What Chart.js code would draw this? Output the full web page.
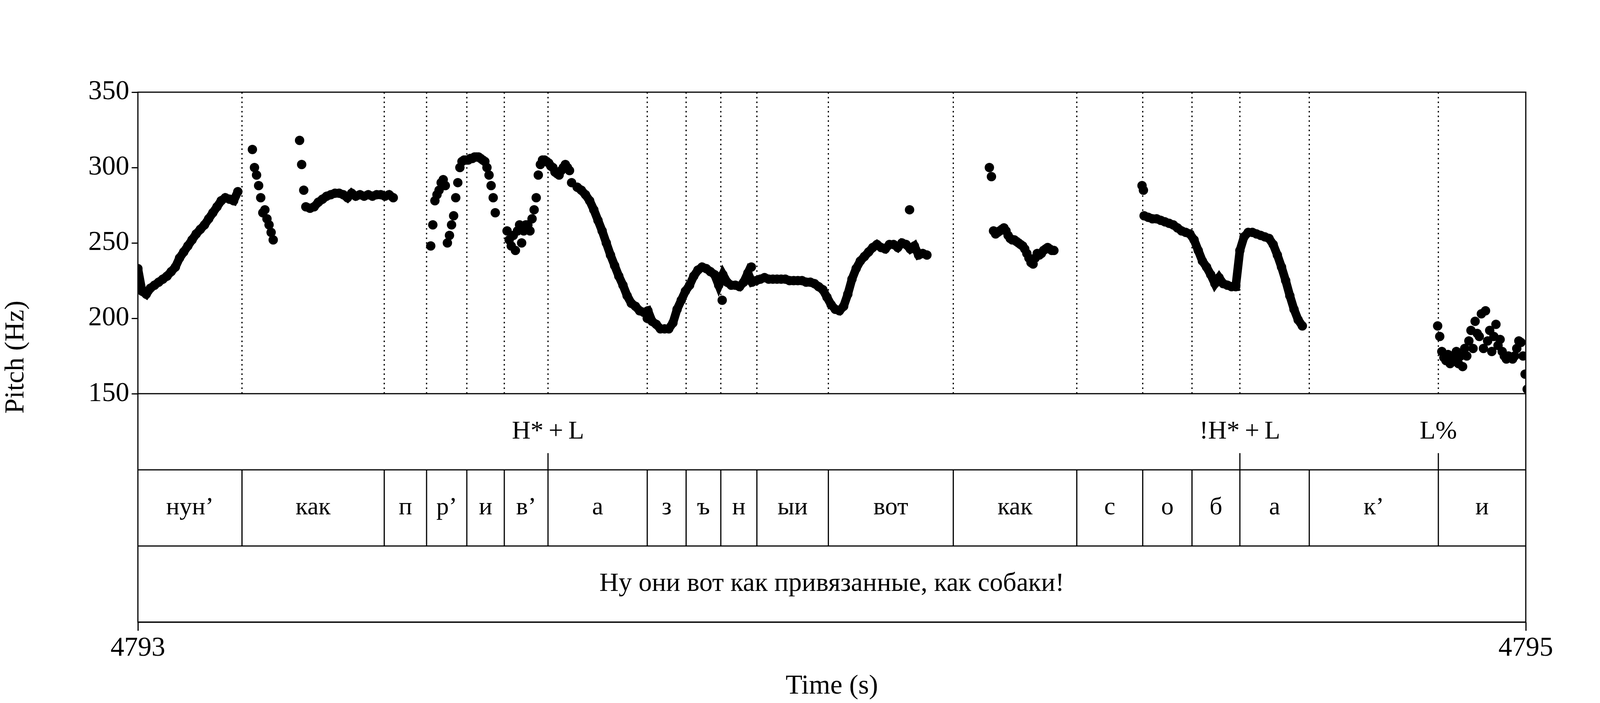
<!DOCTYPE html>
<html>
<head>
<meta charset="utf-8">
<script src="https://cdn.jsdelivr.net/npm/chart.js@4"></script>
<style>
  html, body { margin: 0; padding: 0; background: #fff; }
  #wrap { width: 4200px; height: 1800px; }
</style>
</head>
<body>
<div id="wrap"><canvas id="pitchChart"></canvas></div>
<script>
// time axis: seconds from 4793
const T0 = 4793;
const T1 = 4795;
const yTickValues = [150, 200, 250, 300, 350];
const xTickValues = [4793, 4795];

// pitch runs: start time (s after T0), frame step (s), pitch values (Hz)
const runA = { start: 0.000, step: 0.006, line: true,
  hz: [233,218,216,220,222,224,226,228,231,234,240,244,248,252,256,259,262,266,270,274,278,280,279,278,284] };
const runB = { start: 0.165, step: 0.003, line: false,
  hz: [312,300,295,288,280,270,272,266,262,257,252] };
const runB2 = { start: 0.233, step: 0.003, line: false, hz: [318,302,285] };
const runC = { start: 0.242, step: 0.006, line: true,
  hz: [274,273,274,277,279,281,282,283,283,282,280,283,281,282,281,282,281,282,282,281,282,280] };
const runD = { start: 0.422, step: 0.003, line: false,
  hz: [248,262,278,282,285,290,292,288,250,255,262,268,280,290,300,304,305,305,305,306,306,307,307,307,306,305,304,300,295,288,280,270] };
const runE = { start: 0.532, step: 0.003, line: false,
  hz: [258,252,248,255,245,258,262,250,258,262,262,258,266,272,280,295,302,305,305,304,303,301,300,297,296,295,298,300,302,300,298,290] };
const runF = { start: 0.633, step: 0.006, line: true,
  hz: [287,285,282,278,272,265,258,250,242,235,228,222,215,210,208,205,204,205,198,196,193,193,193,197,206,212,218,222,228,232,234,233,231,229,222,229,224,222,222,221,224,230,224,225,226,227,226,226,226,226,226,225,225,225,225,224,224,223,221,219,214,209,206,205,208,216,226,233,238,241,244,247,249,247,246,249,249,247,250,249,246,248,242,243,242] };
const runG = { start: 1.227, step: 0.003, line: false,
  hz: [300,294,258,256,257,258,259,260,258,255,253,252,252,251,250,249,248,246,243,240,237,236,240,243,242,243,245,246,247,246,245,245] };
const runH = { start: 1.450, step: 0.006, line: true,
  hz: [268,267,266,266,265,264,263,262,260,258,257,256,252,245,238,234,229,223,227,223,222,221,221,245,254,257,257,256,255,254,253,249,242,234,225,215,206,199,195] };
const runI = { start: 1.873, step: 0.003, line: false,
  hz: [195,188,178,174,172,176,170,175,172,178,170,175,168,180,175,185,192,180,198,190,188,203,180,205,185,192,178,188,196,182,186,178,175,173,175,174,173,175,180,185,184,175,163,153] };
// single stray frames
const strayTimes = [0.842, 0.884, 0.734, 1.112, 1.447, 1.449];
const strayHz = [212, 234, 200, 272, 288, 285];

// annotation tiers
const boundaries = [0.150,0.355,0.416,0.474,0.528,0.591,0.734,0.790,0.840,0.892,0.995,1.175,1.353,1.448,1.519,1.588,1.688,1.874];
const segments = ['нун’','как','п','р’','и','в’','а','з','ъ','н','ыи','вот','как','с','о','б','а','к’','и'];
const toneTimes = [0.591, 1.588, 1.874];
const toneLabels = ['H*\u2009+\u2009L', '!H*\u2009+\u2009L', 'L%'];
const sentence = 'Ну они вот как привязанные, как собаки!';

// tier rows in y units (pitch area ends at 150)
const tierEdges = [150, 99.5, 49, -1.5];

const FONT = '"Liberation Serif", "DejaVu Serif", serif';

function runToPoints(run) {
  return run.hz.map((v, i) => ({ x: T0 + run.start + i * run.step, y: v }));
}

const runs = [runA, runB, runB2, runC, runD, runE, runF, runG, runH, runI];
const datasets = runs.map(r => ({
  data: runToPoints(r),
  showLine: r.line,
  borderColor: '#000',
  borderWidth: 22,
  backgroundColor: '#000',
  pointRadius: 12,
  pointBorderWidth: 0,
}));
datasets.push({
  data: strayTimes.map((t, i) => ({ x: T0 + t, y: strayHz[i] })),
  showLine: false,
  backgroundColor: '#000',
  pointRadius: 12,
  pointBorderWidth: 0,
});

const tierPlugin = {
  id: 'tiers',
  afterDatasetsDraw(chart) {
    const { ctx, chartArea: a, scales: { x, y } } = chart;
    ctx.save();
    ctx.strokeStyle = '#000';
    ctx.fillStyle = '#000';
    const yTop = y.getPixelForValue(150);
    // dotted boundaries in pitch area
    ctx.lineWidth = 3;
    ctx.setLineDash([4, 8]);
    boundaries.forEach(b => {
      const px = x.getPixelForValue(T0 + b);
      ctx.beginPath(); ctx.moveTo(px, a.top); ctx.lineTo(px, yTop); ctx.stroke();
    });
    ctx.setLineDash([]);
    // tier horizontal lines
    ctx.lineWidth = 3;
    tierEdges.forEach(v => {
      const py = y.getPixelForValue(v);
      ctx.beginPath(); ctx.moveTo(a.left, py); ctx.lineTo(a.right, py); ctx.stroke();
    });
    ctx.textAlign = 'center';
    ctx.textBaseline = 'middle';
    // tone tier
    const r0 = y.getPixelForValue(tierEdges[0]);
    const r1 = y.getPixelForValue(tierEdges[1]);
    ctx.font = '66px ' + FONT;
    toneTimes.forEach((t, i) => {
      const px = x.getPixelForValue(T0 + t);
      ctx.beginPath(); ctx.moveTo(px, r1 - (r1 - r0) * 0.22); ctx.lineTo(px, r1); ctx.stroke();
      ctx.fillText(toneLabels[i], px, (r0 + r1) / 2);
    });
    // segment tier
    const r2 = y.getPixelForValue(tierEdges[2]);
    const edges = [0].concat(boundaries, [T1 - T0]);
    ctx.font = '64px ' + FONT;
    edges.forEach((e, i) => {
      if (i > 0 && i < edges.length - 1) {
        const px = x.getPixelForValue(T0 + e);
        ctx.beginPath(); ctx.moveTo(px, r1); ctx.lineTo(px, r2); ctx.stroke();
      }
      if (i < segments.length) {
        const mid = (x.getPixelForValue(T0 + e) + x.getPixelForValue(T0 + edges[i + 1])) / 2;
        ctx.fillText(segments[i], mid, (r1 + r2) / 2);
      }
    });
    // sentence tier
    const r3 = y.getPixelForValue(tierEdges[3]);
    ctx.font = '68px ' + FONT;
    ctx.fillText(sentence, (a.left + a.right) / 2, (r2 + r3) / 2);
    // frame
    ctx.lineWidth = 3;
    ctx.strokeRect(a.left, a.top, a.right - a.left, a.bottom - a.top);
    ctx.restore();
  }
};

const canvas = document.querySelector('#pitchChart');
new Chart(canvas, {
  type: 'scatter',
  data: { datasets: datasets },
  options: {
    responsive: true,
    maintainAspectRatio: false,
    animation: false,
    layout: { padding: { top: 236, right: 294, left: 0, bottom: 0 } },
    plugins: { legend: { display: false }, tooltip: { enabled: false } },
    scales: {
      x: {
        type: 'linear', min: T0, max: T1,
        afterBuildTicks: s => { s.ticks = xTickValues.map(v => ({ value: v })); },
        afterFit: s => { s.height = 207; },
        grid: { drawOnChartArea: false, color: '#000', lineWidth: 3, tickLength: 22 },
        border: { display: false },
        ticks: { color: '#000', font: { family: FONT, size: 70 }, padding: 4, maxRotation: 0,
                 callback: v => String(v) },
        title: { display: true, text: 'Time (s)', color: '#000', font: { family: FONT, size: 70 }, padding: { top: 6, bottom: 0 } }
      },
      y: {
        type: 'linear', min: -1.5, max: 350,
        afterBuildTicks: s => { s.ticks = yTickValues.map(v => ({ value: v })); },
        afterFit: s => { s.width = 353; },
        grid: { drawOnChartArea: false, color: '#000', lineWidth: 3, tickLength: 16 },
        border: { display: false },
        ticks: { color: '#000', font: { family: FONT, size: 70 }, padding: 6, callback: v => String(v) },
        title: { display: true, text: 'Pitch (Hz)', color: '#000', font: { family: FONT, size: 70 }, padding: { top: 0, bottom: 0 } }
      }
    }
  },
  plugins: [tierPlugin]
});
</script>
</body>
</html>
